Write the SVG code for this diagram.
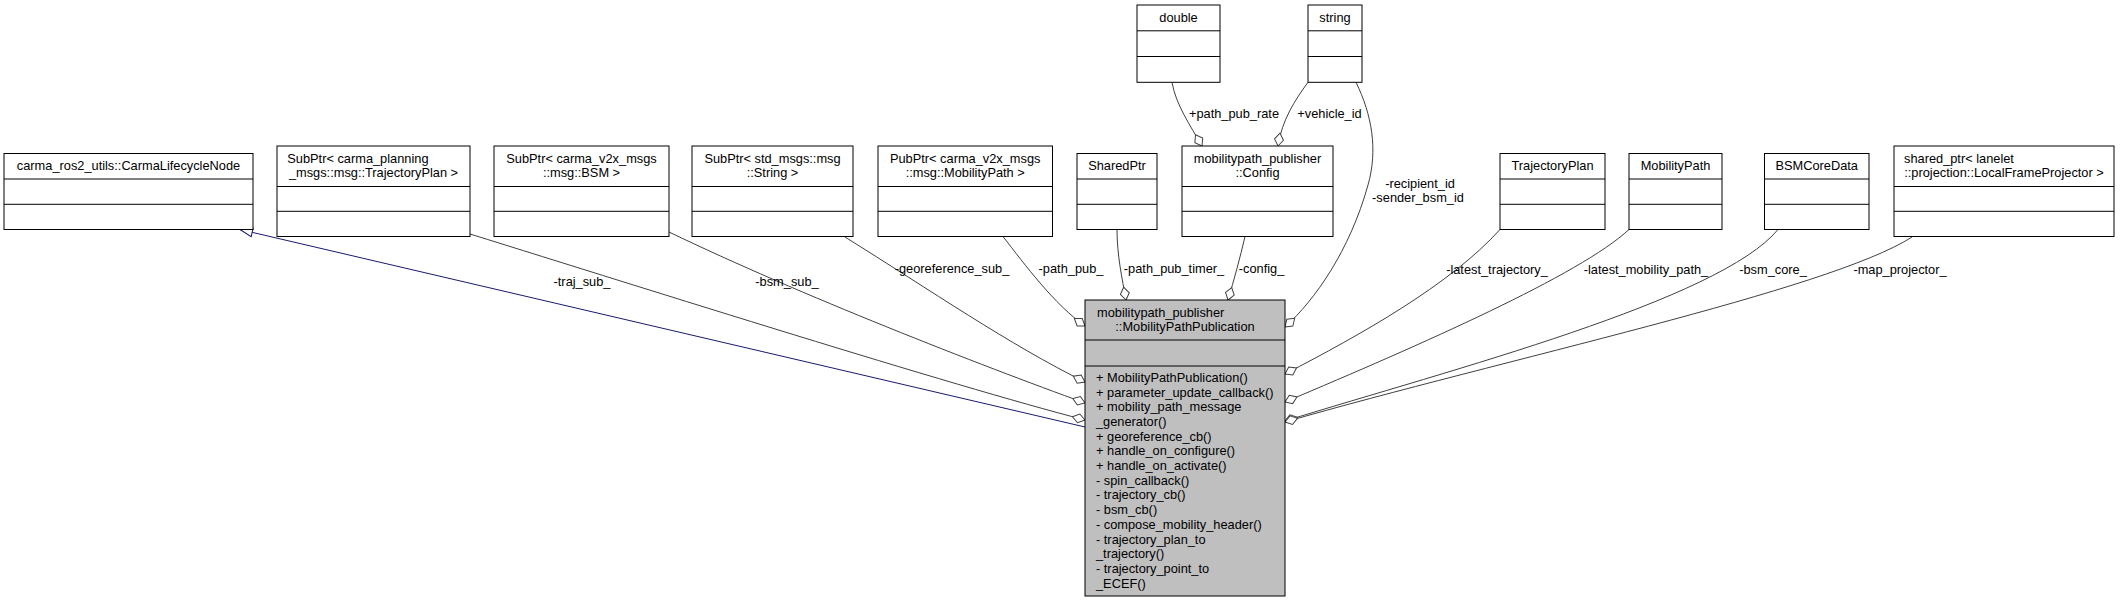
<svg xmlns="http://www.w3.org/2000/svg" width="2122" height="603" viewBox="0 0 2122 603">
<style>
text{font-family:"Liberation Sans",Arial,Helvetica,sans-serif;font-size:12.8px;fill:#000}
.m{text-anchor:middle}
.box{fill:#fff;stroke:#000;stroke-width:1}
.main{fill:#bfbfbf;stroke:#000;stroke-width:1}
.dv{stroke:#000;stroke-width:1}
.e{fill:none;stroke:#404040;stroke-width:1;marker-end:url(#dia)}
.inh{fill:none;stroke:#191970;stroke-width:1;marker-end:url(#tri)}
</style>
<defs>
<marker id="dia" markerUnits="userSpaceOnUse" orient="auto" refX="0" refY="0" markerWidth="14" markerHeight="10" overflow="visible"><path d="M0,0 L-6.5,-4.5 L-13,0 L-6.5,4.5 Z" fill="#fff" stroke="#404040"/></marker>
<marker id="tri" markerUnits="userSpaceOnUse" orient="auto" refX="0" refY="0" markerWidth="14" markerHeight="10" overflow="visible"><path d="M0,0 L-12.5,-4.5 L-12.5,4.5 Z" fill="#fff" stroke="#191970"/></marker>
</defs>
<rect width="2122" height="603" fill="#fff"/>
<g id="edges">
<path class="inh" d="M1085,427 L240,229.5"/>
<path class="e" d="M470,234 C650,290 950,385 1085,420"/>
<path class="e" d="M669,232 C800,295 980,365 1085,403"/>
<path class="e" d="M845,237 C930,290 1010,345 1085,382"/>
<path class="e" d="M1003,236.5 C1025,265 1055,305 1085,326"/>
<path class="e" d="M1117,229.5 C1117,255 1122,278 1126,300"/>
<path class="e" d="M1245,236.5 C1240,258 1234,280 1228,300"/>
<path class="e" d="M1172,82.3 C1176,105 1190,125 1202,146"/>
<path class="e" d="M1308,82.3 C1295,100 1282,120 1278,146"/>
<path class="e" d="M1356,82.3 C1372,115 1378,150 1368,185 C1350,250 1315,300 1285,327"/>
<path class="e" d="M1500,229.5 C1450,285 1360,335 1285,374"/>
<path class="e" d="M1629,229.5 C1580,275 1420,345 1285,402"/>
<path class="e" d="M1778,229.5 C1720,300 1450,370 1285,421"/>
<path class="e" d="M1912,237 C1830,290 1500,360 1285,422"/>
<text class="m" x="582" y="286">-traj_sub_</text>
<text class="m" x="787" y="286">-bsm_sub_</text>
<text class="m" x="952" y="273">-georeference_sub_</text>
<text class="m" x="1071" y="273">-path_pub_</text>
<text class="m" x="1174" y="273">-path_pub_timer_</text>
<text class="m" x="1261.5" y="273">-config_</text>
<text class="m" x="1234" y="117.5">+path_pub_rate</text>
<text class="m" x="1329.5" y="117.5">+vehicle_id</text>
<text class="m" x="1420" y="187.5">-recipient_id</text>
<text class="m" x="1418" y="201.5">-sender_bsm_id</text>
<text class="m" x="1497" y="273.5">-latest_trajectory_</text>
<text class="m" x="1646" y="273.5">-latest_mobility_path_</text>
<text class="m" x="1773" y="273.5">-bsm_core_</text>
<text class="m" x="1900" y="273.5">-map_projector_</text>
</g>
<g id="node_main">
<rect class="main" x="1085" y="300" width="200" height="296"/>
<line class="dv" x1="1085" y1="340" x2="1285" y2="340"/>
<line class="dv" x1="1085" y1="366" x2="1285" y2="366"/>
<text x="1097" y="316.6">mobilitypath_publisher</text>
<text class="m" x="1185" y="330.8">::MobilityPathPublication</text>
<text x="1096" y="381.8">+ MobilityPathPublication()</text>
<text x="1096" y="396.5">+ parameter_update_callback()</text>
<text x="1096" y="411.2">+ mobility_path_message</text>
<text x="1096" y="425.9">_generator()</text>
<text x="1096" y="440.6">+ georeference_cb()</text>
<text x="1096" y="455.3">+ handle_on_configure()</text>
<text x="1096" y="470">+ handle_on_activate()</text>
<text x="1096" y="484.7">- spin_callback()</text>
<text x="1096" y="499.4">- trajectory_cb()</text>
<text x="1096" y="514.1">- bsm_cb()</text>
<text x="1096" y="528.8">- compose_mobility_header()</text>
<text x="1096" y="543.5">- trajectory_plan_to</text>
<text x="1096" y="558.2">_trajectory()</text>
<text x="1096" y="572.9">- trajectory_point_to</text>
<text x="1096" y="587.6">_ECEF()</text>
</g>
<g id="node_carma">
<rect class="box" x="4" y="153.5" width="249" height="76"/>
<line class="dv" x1="4" y1="179" x2="253" y2="179"/>
<line class="dv" x1="4" y1="204.3" x2="253" y2="204.3"/>
<text class="m" x="128.5" y="170.2">carma_ros2_utils::CarmaLifecycleNode</text>
</g>
<g id="node_traj_sub">
<rect class="box" x="277" y="146" width="193" height="90.5"/>
<line class="dv" x1="277" y1="186.5" x2="470" y2="186.5"/>
<line class="dv" x1="277" y1="211.3" x2="470" y2="211.3"/>
<text x="287.3" y="162.6">SubPtr&lt; carma_planning</text>
<text class="m" x="373.5" y="176.8">_msgs::msg::TrajectoryPlan &gt;</text>
</g>
<g id="node_bsm_sub">
<rect class="box" x="494" y="146" width="175" height="90.5"/>
<line class="dv" x1="494" y1="186.5" x2="669" y2="186.5"/>
<line class="dv" x1="494" y1="211.3" x2="669" y2="211.3"/>
<text class="m" x="581.5" y="162.6">SubPtr&lt; carma_v2x_msgs</text>
<text class="m" x="581.5" y="176.8">::msg::BSM &gt;</text>
</g>
<g id="node_georef_sub">
<rect class="box" x="692" y="146" width="161" height="90.5"/>
<line class="dv" x1="692" y1="186.5" x2="853" y2="186.5"/>
<line class="dv" x1="692" y1="211.3" x2="853" y2="211.3"/>
<text class="m" x="772.5" y="162.6">SubPtr&lt; std_msgs::msg</text>
<text class="m" x="772.5" y="176.8">::String &gt;</text>
</g>
<g id="node_path_pub">
<rect class="box" x="878" y="146" width="174.5" height="90.5"/>
<line class="dv" x1="878" y1="186.5" x2="1052.5" y2="186.5"/>
<line class="dv" x1="878" y1="211.3" x2="1052.5" y2="211.3"/>
<text class="m" x="965.2" y="162.6">PubPtr&lt; carma_v2x_msgs</text>
<text class="m" x="965.2" y="176.8">::msg::MobilityPath &gt;</text>
</g>
<g id="node_sharedptr">
<rect class="box" x="1077" y="153.5" width="80" height="76"/>
<line class="dv" x1="1077" y1="179" x2="1157" y2="179"/>
<line class="dv" x1="1077" y1="204.3" x2="1157" y2="204.3"/>
<text class="m" x="1117" y="170.2">SharedPtr</text>
</g>
<g id="node_config">
<rect class="box" x="1182" y="146" width="151" height="90.5"/>
<line class="dv" x1="1182" y1="186.5" x2="1333" y2="186.5"/>
<line class="dv" x1="1182" y1="211.3" x2="1333" y2="211.3"/>
<text class="m" x="1257.5" y="162.6">mobilitypath_publisher</text>
<text class="m" x="1257.5" y="176.8">::Config</text>
</g>
<g id="node_double">
<rect class="box" x="1137" y="5" width="83" height="77.3"/>
<line class="dv" x1="1137" y1="30.8" x2="1220" y2="30.8"/>
<line class="dv" x1="1137" y1="56.5" x2="1220" y2="56.5"/>
<text class="m" x="1178.5" y="21.5">double</text>
</g>
<g id="node_string">
<rect class="box" x="1308" y="5" width="54" height="77.3"/>
<line class="dv" x1="1308" y1="30.8" x2="1362" y2="30.8"/>
<line class="dv" x1="1308" y1="56.5" x2="1362" y2="56.5"/>
<text class="m" x="1335" y="21.5">string</text>
</g>
<g id="node_trajplan">
<rect class="box" x="1500" y="153.5" width="105" height="76"/>
<line class="dv" x1="1500" y1="179" x2="1605" y2="179"/>
<line class="dv" x1="1500" y1="204.3" x2="1605" y2="204.3"/>
<text class="m" x="1552.5" y="170.2">TrajectoryPlan</text>
</g>
<g id="node_mobpath">
<rect class="box" x="1629" y="153.5" width="93" height="76"/>
<line class="dv" x1="1629" y1="179" x2="1722" y2="179"/>
<line class="dv" x1="1629" y1="204.3" x2="1722" y2="204.3"/>
<text class="m" x="1675.5" y="170.2">MobilityPath</text>
</g>
<g id="node_bsmcore">
<rect class="box" x="1764.5" y="153.5" width="104.5" height="76"/>
<line class="dv" x1="1764.5" y1="179" x2="1869" y2="179"/>
<line class="dv" x1="1764.5" y1="204.3" x2="1869" y2="204.3"/>
<text class="m" x="1816.7" y="170.2">BSMCoreData</text>
</g>
<g id="node_projector">
<rect class="box" x="1894" y="146" width="220" height="90.5"/>
<line class="dv" x1="1894" y1="186.5" x2="2114" y2="186.5"/>
<line class="dv" x1="1894" y1="211.3" x2="2114" y2="211.3"/>
<text x="1904" y="162.6">shared_ptr&lt; lanelet</text>
<text class="m" x="2004" y="176.8">::projection::LocalFrameProjector &gt;</text>
</g>
</svg>
